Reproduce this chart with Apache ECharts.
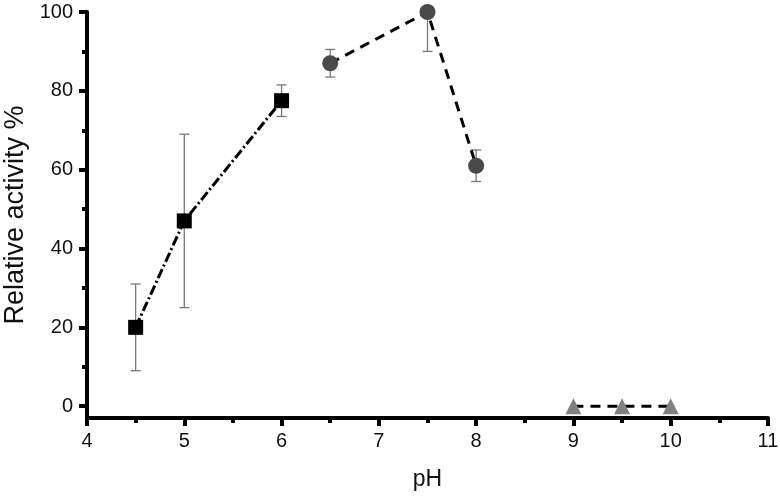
<!DOCTYPE html>
<html>
<head>
<meta charset="utf-8">
<script src="https://cdn.jsdelivr.net/npm/echarts@6/dist/echarts.min.js"></script>
<style>
  html, body { margin: 0; padding: 0; background: #fff; }
  #chart { width: 780px; height: 499px; }
</style>
</head>
<body>
<div id="chart"></div>
<script>
// acidic range (squares)
const phAcid = [4.5, 5, 6];
const actAcid = [20, 47, 77.5];
const lowAcid = [9, 25, 73.5];
const highAcid = [31, 69, 81.5];
const barColorAcid = ["#000", "#888", "#000"];

// neutral range (circles)
const phNeutral = [6.5, 7.5, 8];
const actNeutral = [87, 100, 61];
const lowNeutral = [83.5, 90, 57];
const highNeutral = [90.5, 100, 65];

// alkaline range (triangles)
const phAlk = [9, 9.5, 10];
const actAlk = [0, 0, 0];

const yMajor = [0, 20, 40, 60, 80, 100];
const yMinor = [10, 30, 50, 70, 90];

const font = "Liberation Sans, Arial, sans-serif";

function errData(xs, lo, hi, colors) {
  return xs.map((x, i) => [x, lo[i], hi[i], colors ? colors[i] : "#777"]);
}

function errBar(params, api) {
  const x = api.value(0);
  const lo = api.coord([x, api.value(1)]);
  const hi = api.coord([x, api.value(2)]);
  const color = params.data ? params.data[3] : "#777";
  const cap = 5;
  const style = { stroke: color, lineWidth: 1.3 };
  return {
    type: "group",
    children: [
      { type: "line", shape: { x1: lo[0], y1: lo[1], x2: hi[0], y2: hi[1] }, style: style },
      { type: "line", shape: { x1: lo[0] - cap, y1: lo[1], x2: lo[0] + cap, y2: lo[1] }, style: style },
      { type: "line", shape: { x1: hi[0] - cap, y1: hi[1], x2: hi[0] + cap, y2: hi[1] }, style: style }
    ]
  };
}

const axisStroke = { color: "#000", width: 4 };

const chart = echarts.init(document.getElementById("chart"));
chart.setOption({
  animation: false,
  grid: { left: 87, right: 12, top: 12, bottom: 81, outerBoundsMode: "none" },
  xAxis: {
    type: "value",
    min: 4,
    max: 11,
    interval: 1,
    name: "pH",
    nameLocation: "middle",
    nameGap: 50,
    nameTextStyle: { fontSize: 23, color: "#111", fontFamily: font },
    axisLine: { onZero: false, lineStyle: axisStroke },
    axisTick: { length: 8, lineStyle: axisStroke },
    minorTick: { show: true, splitNumber: 2, length: 5, lineStyle: axisStroke },
    axisLabel: { fontSize: 20, color: "#111", fontFamily: font, margin: 13 },
    splitLine: { show: false }
  },
  yAxis: [
    {
      type: "value",
      min: -3,
      max: 100,
      name: "Relative activity %",
      nameLocation: "middle",
      nameGap: 58,
      nameTextStyle: { fontSize: 27, color: "#111", fontFamily: font },
      axisLine: { show: true, onZero: false, lineStyle: axisStroke },
      axisTick: { customValues: yMajor, length: 8, lineStyle: axisStroke },
      axisLabel: { customValues: yMajor, fontSize: 20, color: "#111", fontFamily: font, margin: 14 },
      splitLine: { show: false }
    },
    {
      type: "value",
      min: -3,
      max: 100,
      position: "left",
      axisLine: { show: false },
      axisTick: { show: true, customValues: yMinor, length: 5, lineStyle: axisStroke },
      axisLabel: { show: false },
      splitLine: { show: false }
    }
  ],
  series: [
    {
      type: "custom",
      renderItem: errBar,
      data: errData(phAcid, lowAcid, highAcid, barColorAcid),
      z: 1
    },
    {
      type: "custom",
      renderItem: errBar,
      data: errData(phNeutral, lowNeutral, highNeutral),
      z: 1
    },
    {
      type: "line",
      data: phAcid.map((x, i) => [x, actAcid[i]]),
      symbol: "rect",
      symbolSize: 15,
      itemStyle: { color: "#000" },
      lineStyle: { color: "#000", width: 3, type: [10, 3, 2, 3] },
      z: 3
    },
    {
      type: "line",
      data: phNeutral.map((x, i) => [x, actNeutral[i]]),
      symbol: "circle",
      symbolSize: 16,
      itemStyle: { color: "#4a4a4a" },
      lineStyle: { color: "#000", width: 3, type: [10, 7] },
      z: 3
    },
    {
      type: "line",
      data: phAlk.map((x, i) => [x, actAlk[i]]),
      symbol: "triangle",
      symbolSize: 16,
      itemStyle: { color: "#808080" },
      lineStyle: { color: "#000", width: 3, type: [10, 7] },
      z: 3
    }
  ]
});
</script>
</body>
</html>
